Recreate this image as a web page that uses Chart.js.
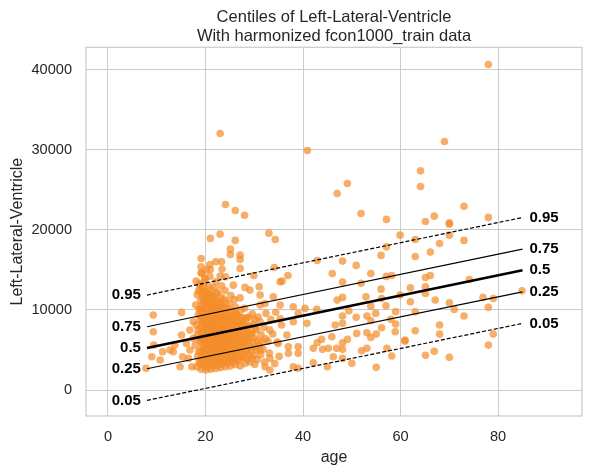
<!DOCTYPE html>
<html>
<head>
<meta charset="utf-8">
<script src="https://cdn.jsdelivr.net/npm/chart.js@4.4.1/dist/chart.umd.min.js"></script>
<style>
  html, body { margin: 0; padding: 0; background: #fff; }
</style>
</head>
<body>
<canvas id="centile-chart" width="592" height="475"></canvas>
<script>
// ── Data ─────────────────────────────────
const xTicks = [0, 20, 40, 60, 80];
const yTicks = [0, 10000, 20000, 30000, 40000];

// centile curves, start and end age
const centileAges = [8, 85];
const centileLabels = ['0.05', '0.25', '0.5', '0.75', '0.95'];
const centile05 = [-1290, 8310];
const centile25 = [2660, 12260];
const centile50 = [5240, 14960];
const centile75 = [7900, 17580];
const centile95 = [11850, 21530];

// subjects: [age, Left-Lateral-Ventricle]
const subjects = [
  [78.0,40610],[40.9,29890],[69.0,31010],[64.1,27350],[64.1,25400],[49.1,25780],[47.0,24530],
  [51.9,22030],[57.1,21290],[73.0,22940],[65.1,21040],[66.9,21700],[70.0,20860],[70.0,20700],
  [78.0,21540],[59.9,19330],[63.0,18790],[70.0,19330],[73.0,18670],[68.0,18290],[42.9,16170],
  [48.1,16090],[50.9,15550],[56.0,16800],[57.1,17870],[63.0,16670],[66.1,17210],[46.0,14550],
  [53.9,14550],[48.1,13470],[51.9,13310],[57.1,14180],[58.2,14300],[65.1,14050],[66.1,14300],
  [74.1,13800],[56.0,12590],[62.0,12760],[84.9,12380],[65.1,12880],[47.0,11220],[48.1,11560],
  [52.9,11630],[56.1,11430],[59.9,11850],[62.0,11010],[65.1,12060],[67.1,11220],[76.9,11560],
  [79.0,11430],[70.0,10890],[78.0,10310],[71.0,10060],[40.4,10190],[42.8,10060],[49.4,9890],
  [53.9,10470],[57.0,10510],[59.0,9760],[54.9,9560],[63.0,9760],[73.0,9230],[48.1,9230],
  [50.9,9070],[53.1,9230],[58.0,8820],[40.8,8320],[46.6,8110],[48.1,8320],[53.9,8640],
  [56.1,7770],[59.0,8230],[58.9,7270],[68.0,8110],[51.0,7070],[53.1,7150],[55.0,6980],
  [63.0,7390],[68.0,6980],[79.0,6980],[42.9,5900],[43.8,6320],[45.9,6650],[48.1,5900],
  [49.1,6320],[53.9,6570],[60.9,6240],[60.9,6100],[42.1,5200],[44.0,5080],[45.2,5200],[46.9,5200],
  [48.1,5080],[52.0,4900],[53.1,5200],[57.2,5200],[78.0,5610],[46.2,4150],[48.1,3950],
  [50.0,3330],[42.1,3400],[58.2,4240],[65.1,4330],[66.9,4830],[70.0,4080],[45.0,2910],[55.0,2830],
  // 30 - 40
  [29.9,14300],[34.1,15300],[36.9,14300],[35.7,13590],[33.0,19580],[34.3,18790],[31.0,12880],
  [35.3,13500],[38.0,10390],[35.3,10600],[39.0,9560],[38.0,8520],[35.6,8110],[36.7,6860],
  [34.9,5820],[37.0,5400],[39.0,5400],[37.0,4580],[39.0,4580],[38.0,2910],[39.0,2710],
  [33.2,3950],[32.2,2910],[33.2,2490],[31.2,4990],[31.5,6020],[33.2,7480],[31.2,8520],
  [32.4,9560],[31.2,10600],[33.9,11630],[31.2,11850],[29.1,12470],
  // upper edge of the young cluster
  [28.0,21820],[26.1,22410],[24.1,23160],[23.0,32010],[21.0,18920],[23.0,19450],[26.1,18670],
  [25.1,17580],[25.1,16920],[27.1,16830],[27.1,16300],[27.1,15180],[19.1,16420],[20.9,15670],
  [22.1,16000],[23.3,16000],[23.4,15090],[19.1,15380],[21.0,15050],[19.1,14590],[18.1,13590],
  [19.9,13930],[23.0,14220],[24.1,14130],[25.7,13090],[28.1,12810],
  // youngest subjects
  [9.3,9350],[15.1,9690],[9.3,7270],[9.4,5610],[9.0,4150],[10.7,3740],[7.8,2710],[11.2,4780],
  [12.7,4990],[13.4,4780],[15.1,6860],[13.7,5610],[16.1,5820],[15.3,4150],[16.8,7480],
  [16.8,4990],[14.8,2910],[16.5,3950],[17.5,8520],[17.5,6450],[17.2,2910],
  // dense cluster 18 - 35
  [18.2,2900],[18.4,4200],[17.9,5600],[18.3,6900],[18.1,8100],[18.5,9400],[18.0,10600],[18.3,11900],
  [18.7,3500],[18.6,4800],[18.8,6200],[18.5,7500],[18.9,8800],[18.7,10100],[18.6,12400],[18.8,13100],
  [19.1,2600],[18.9,3300],[19.2,4000],[19.0,4700],[19.3,5300],[19.1,6000],[18.9,6600],[19.2,7300],
  [19.0,7900],[19.3,8600],[19.1,9200],[18.9,9900],[19.2,10500],[19.0,11200],[19.3,11900],[19.1,12600],
  [18.9,13300],[19.2,14600],
  [19.6,3000],[19.4,3700],[19.7,4400],[19.5,5000],[19.8,5700],[19.6,6300],[19.4,7000],[19.7,7600],
  [19.5,8300],[19.8,8900],[19.6,9600],[19.4,10200],[19.7,10900],[19.5,11500],[19.8,12200],[19.6,12900],
  [20.1,2500],[19.9,3200],[20.2,3900],[20.0,4500],[20.3,5200],[20.1,5800],[19.9,6500],[20.2,7100],
  [20.0,7800],[20.3,8400],[20.1,9100],[19.9,9700],[20.2,10400],[20.0,11000],[20.3,11700],[20.1,12300],
  [19.9,13800],[20.2,15000],
  [20.6,2800],[20.4,3500],[20.7,4200],[20.5,4900],[20.8,5500],[20.6,6200],[20.4,6800],[20.7,7500],
  [20.5,8100],[20.8,8800],[20.6,9400],[20.4,10100],[20.7,10700],[20.5,11400],[20.8,12000],[20.6,13000],
  [21.1,2600],[20.9,3300],[21.2,4000],[21.0,4600],[21.3,5300],[21.1,5900],[20.9,6600],[21.2,7200],
  [21.0,7900],[21.3,8500],[21.1,9200],[20.9,9800],[21.2,10500],[21.0,11100],[21.3,11800],[21.1,12500],
  [20.9,14200],
  [21.6,3000],[21.4,3700],[21.7,4300],[21.5,5000],[21.8,5700],[21.6,6300],[21.4,7000],[21.7,7600],
  [21.5,8300],[21.8,8900],[21.6,9600],[21.4,10200],[21.7,10900],[21.5,11600],[21.8,12800],
  [22.1,2700],[21.9,3400],[22.2,4100],[22.0,4800],[22.3,5400],[22.1,6100],[21.9,6700],[22.2,7400],
  [22.0,8000],[22.3,8700],[22.1,9300],[21.9,10000],[22.2,10600],[22.0,11300],[22.3,12000],[22.1,13500],
  [22.6,3100],[22.4,3800],[22.7,4500],[22.5,5100],[22.8,5800],[22.6,6400],[22.4,7100],[22.7,7700],
  [22.5,8400],[22.8,9000],[22.6,9700],[22.4,10300],[22.7,11000],[22.5,12200],
  [23.1,2800],[22.9,3500],[23.2,4200],[23.0,4900],[23.3,5500],[23.1,6200],[22.9,6800],[23.2,7500],
  [23.0,8100],[23.3,8800],[23.1,9400],[22.9,10100],[23.2,10800],[23.0,11600],[23.3,13000],
  [23.6,3300],[23.4,4000],[23.7,4600],[23.5,5300],[23.8,5900],[23.6,6600],[23.4,7200],[23.7,7900],
  [23.5,8500],[23.8,9200],[23.6,9800],[23.4,10500],[23.7,11400],
  [24.1,2900],[23.9,3600],[24.2,4300],[24.0,5000],[24.3,5600],[24.1,6300],[23.9,6900],[24.2,7600],
  [24.0,8200],[24.3,8900],[24.1,9600],[23.9,10300],[24.2,11100],[24.0,12400],
  [24.6,3400],[24.4,4100],[24.7,4800],[24.5,5400],[24.8,6100],[24.6,6700],[24.4,7400],[24.7,8000],
  [24.5,8700],[24.8,9400],[24.6,10200],
  [25.1,3000],[24.9,3700],[25.2,4400],[25.0,5100],[25.3,5700],[25.1,6400],[24.9,7000],[25.2,7700],
  [25.0,8400],[25.3,9100],[25.1,9900],[24.9,10800],[25.2,11800],
  [25.6,3500],[25.4,4200],[25.7,4900],[25.5,5600],[25.8,6200],[25.6,6900],[25.4,7500],[25.7,8200],
  [25.5,9000],[25.8,9800],
  [26.1,3200],[25.9,3900],[26.2,4600],[26.0,5300],[26.3,6000],[26.1,6600],[25.9,7300],[26.2,8000],
  [26.0,8700],[26.3,9500],[26.1,10400],[25.9,11300],
  [26.6,3700],[26.4,4400],[26.7,5100],[26.5,5800],[26.8,6500],[26.6,7200],[26.4,7900],[26.7,8600],
  [26.5,9400],
  [27.1,3000],[26.9,3800],[27.2,4500],[27.0,5300],[27.3,6000],[27.1,6800],[26.9,7500],[27.2,8300],
  [27.0,9100],[27.3,10000],[27.1,11500],
  [27.6,4200],[27.4,5000],[27.7,5800],[27.5,6600],[27.8,7400],[27.6,8200],[27.4,9000],
  [28.1,3300],[27.9,4100],[28.2,4900],[28.0,5700],[28.3,6500],[28.1,7300],[27.9,8100],[28.2,9000],
  [28.0,10200],
  [28.6,3800],[28.4,4700],[28.7,5600],[28.5,6400],[28.8,7200],[28.6,8000],[28.4,8900],
  [29.1,3500],[28.9,4400],[29.2,5300],[29.0,6200],[29.3,7100],[29.1,8000],[28.9,9100],
  [29.6,4000],[29.4,5000],[29.7,6000],[29.5,7000],[29.8,8200],[29.6,9500],
  [30.1,3200],[29.9,4300],[30.2,5400],[30.0,6500],[30.3,7700],[30.1,8800],
  [30.6,3800],[30.4,5000],[30.7,6200],[30.5,7500],[30.8,9100],
  [31.3,4400],[31.0,5600],[31.4,6900],
  [32.1,3500],[31.8,5100],[32.3,6400],[32.0,7800],[32.2,10800],
  [33.1,4600],[32.8,6100],[33.4,8800],
  [34.2,3300],[33.8,7000],[34.4,9700],
  [35.1,4200],[34.7,6000],[35.3,8900]
];

// ── Chart ─────────────────────────────────
const FONT = '"Liberation Sans", Arial, sans-serif';
const TEXT = '#262626';
Chart.defaults.font.family = FONT;
Chart.defaults.color = TEXT;

const centileSeries = [centile05, centile25, centile50, centile75, centile95];

function centileDataset(values, idx) {
  const dashed = idx === 0 || idx === 4;
  return {
    type: 'line',
    label: centileLabels[idx],
    data: centileAges.map((a, i) => ({ x: a, y: values[i] })),
    borderColor: '#000',
    borderWidth: idx === 2 ? 2.6 : 1.2,
    borderDash: dashed ? [4, 2] : [],
    pointRadius: 0,
    fill: false,
    order: 0
  };
}

// light grey frame round the plot area
const framePlugin = {
  id: 'frame',
  beforeDatasetsDraw(chart) {
    const { ctx, chartArea: a } = chart;
    ctx.save();
    ctx.strokeStyle = '#cccccc';
    ctx.lineWidth = 1.25;
    ctx.strokeRect(a.left, a.top, a.right - a.left, a.bottom - a.top);
    ctx.restore();
  }
};

// centile names at both ends of each line
const centileLabelPlugin = {
  id: 'centileLabels',
  afterDatasetsDraw(chart) {
    const { ctx, scales: { x, y } } = chart;
    ctx.save();
    ctx.font = 'bold 15px ' + FONT;
    ctx.fillStyle = '#000';
    ctx.textBaseline = 'middle';
    centileSeries.forEach((vals, i) => {
      ctx.textAlign = 'right';
      ctx.fillText(centileLabels[i], x.getPixelForValue(centileAges[0]) - 6, y.getPixelForValue(vals[0]));
      ctx.textAlign = 'left';
      ctx.fillText(centileLabels[i], x.getPixelForValue(centileAges[1]) + 7, y.getPixelForValue(vals[1]));
    });
    ctx.restore();
  }
};

new Chart(document.getElementById('centile-chart'), {
  type: 'scatter',
  data: {
    datasets: [
      ...centileSeries.map(centileDataset),
      {
        label: 'subjects',
        data: subjects.map(([a, v]) => ({ x: a, y: v })),
        backgroundColor: 'rgba(243,140,40,0.7)',
        borderWidth: 0,
        pointRadius: 3.8,
        pointHoverRadius: 3.8,
        order: 1
      }
    ]
  },
  options: {
    responsive: false,
    animation: false,
    devicePixelRatio: 1,
    layout: { padding: { left: 0, right: 10, top: 0, bottom: 0 } },
    plugins: {
      legend: { display: false },
      tooltip: { enabled: false },
      title: {
        display: true,
        fullSize: false,
        text: ['Centiles of Left-Lateral-Ventricle', 'With harmonized fcon1000_train data'],
        color: TEXT,
        font: { size: 16.5, weight: 'normal', lineHeight: 1.13 },
        padding: { top: 8, bottom: 2 }
      }
    },
    scales: {
      x: {
        type: 'linear',
        min: -4.5,
        max: 97.2,
        afterBuildTicks: s => { s.ticks = xTicks.map(v => ({ value: v })); },
        afterFit: s => { s.height = 59; },
        grid: { color: '#cccccc', lineWidth: 1, drawTicks: false },
        border: { display: false },
        ticks: { font: { size: 14.6 }, color: TEXT, padding: 12 },
        title: { display: true, text: 'age', color: TEXT, font: { size: 16 }, padding: { top: 0, bottom: 8 } }
      },
      y: {
        type: 'linear',
        min: -3240,
        max: 42770,
        afterBuildTicks: s => { s.ticks = yTicks.map(v => ({ value: v })); },
        afterFit: s => { s.width = 86; },
        grid: { color: '#cccccc', lineWidth: 1, drawTicks: false },
        border: { display: false },
        ticks: { font: { size: 14.6 }, color: TEXT, padding: 14, callback: v => String(v) },
        title: { display: true, text: 'Left-Lateral-Ventricle', color: TEXT, font: { size: 16 }, padding: { top: 8, bottom: 0 } }
      }
    }
  },
  plugins: [framePlugin, centileLabelPlugin]
});
</script>
</body>
</html>
